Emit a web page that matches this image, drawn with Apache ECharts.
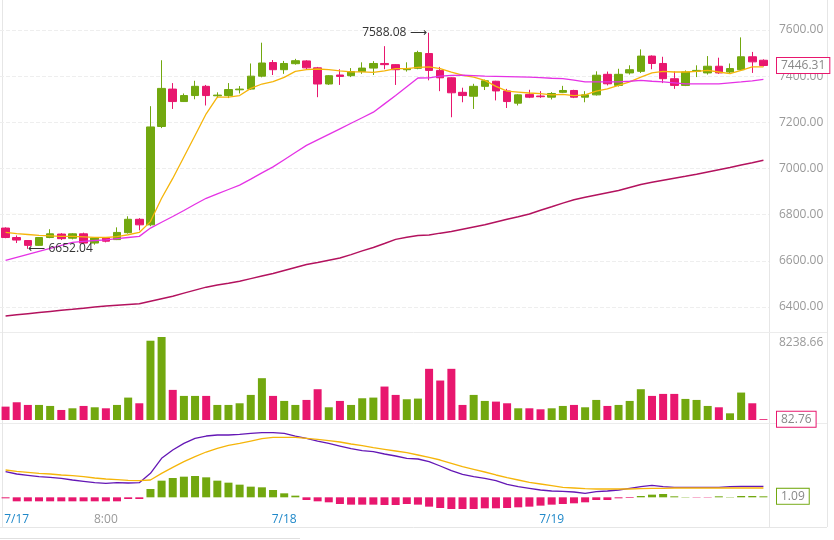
<!DOCTYPE html>
<html><head><meta charset="utf-8">
<script src="https://cdn.jsdelivr.net/npm/echarts@6/dist/echarts.min.js"></script>
<style>html,body{margin:0;padding:0;background:#fff}#c{width:834px;height:540px}</style>
</head><body><div id="c"></div>
<script>
// index 0 = 7/16 23:00, hourly candles
const xLabels = ['', '7/17', '', '', '', '', '', '', '', '8:00', '', '', '', '', '', '', '', '', '', '', '', '', '', '', '', '7/18', '', '', '', '', '', '', '', '', '', '', '', '', '', '', '', '', '', '', '', '', '', '', '', '7/19', '', '', '', '', '', '', '', '', '', '', '', '', '', '', '', '', '', '', ''];
// [open, close, low, high]
const ohlc = [
[6742,6701,6698,6745],[6701,6690,6677,6710],[6688,6667,6652.04,6690],[6667,6701,6665,6703],[6701,6717,6698,6737],
[6716,6696,6690,6720],[6698,6717,6693,6720],[6717,6677,6673,6722],[6677,6699,6670,6703],[6699,6685,6680,6702],
[6692,6723,6690,6745],[6722,6780,6718,6793],[6780,6756,6732,6785],[6756,7180,6750,7270],[7182,7347,7175,7469],
[7344,7290,7258,7370],[7290,7316,7288,7325],[7316,7356,7300,7380],[7356,7316,7273,7362],[7315,7318,7305,7330],
[7316,7342,7305,7370],[7341,7344,7325,7357],[7344,7400,7340,7455],[7400,7457,7395,7545],[7459,7428,7405,7470],
[7428,7455,7410,7466],[7454,7467,7450,7475],[7466,7436,7430,7469],[7436,7366,7309,7440],[7366,7402,7362,7405],
[7405,7399,7362,7430],[7402,7420,7396,7435],[7420,7435,7410,7460],[7435,7455,7405,7465],[7455,7450,7430,7530],
[7450,7428,7362,7452],[7428,7433,7420,7460],[7434,7502,7430,7510],[7498,7425,7382,7588.08],[7425,7393,7335,7440],
[7393,7328,7222,7395],[7330,7316,7287,7350],[7313,7356,7258,7367],[7356,7380,7340,7385],[7378,7336,7295,7380],
[7336,7290,7262,7345],[7283,7319,7273,7322],[7321,7309,7305,7341],[7314,7311,7306,7335],[7309,7325,7299,7331],
[7330,7338,7327,7358],[7338,7309,7305,7341],[7309,7319,7287,7335],[7319,7404,7316,7421],[7408,7367,7360,7420],
[7360,7408,7355,7432],[7414,7428,7407,7447],[7421,7487,7414,7516],[7487,7455,7430,7490],[7455,7389,7370,7484],
[7389,7360,7345,7421],[7360,7418,7357,7425],[7421,7425,7396,7447],[7414,7443,7407,7487],[7443,7414,7410,7480],
[7418,7433,7414,7455],[7428,7484,7425,7568],[7484,7462,7414,7505],[7469,7446.31,7442,7473]
];
const maShort = [6723,6718,6714,6710,6708,6706,6706,6704,6702,6701,6705,6713,6723,6770,6871,6957,7050,7143,7237,7309,
7309,7316,7347,7366,7376,7395,7421,7428,7431,7428,7423,7419,7419,7416,7423,7433,7433,7438,7440,7433,
7418,7404,7396,7382,7356,7335,7331,7327,7324,7319,7321,7316,7319,7335,7345,7360,7375,7396,7414,7421,
7418,7418,7421,7425,7418,7411,7425,7440,7440];
const maMid = [6602,6615,6628,6641,6654,6667,6680,6684,6688,6691,6696,6701,6706,6742,6767,6792,6818,6845,6871,6890,
6909,6928,6954,6981,7007,7038,7069,7100,7124,7148,7172,7196,7220,7244,7280,7316,7354,7392,7393,7400,
7403,7404,7402,7400,7399,7398,7397,7396,7394,7391,7389,7383,7375,7375,7375,7375,7378,7382,7378,7375,
7371,7367,7367,7367,7367,7371,7375,7380,7386];
const maLong = [6361,6366,6371,6376,6381,6386,6390,6395,6400,6404,6408,6411,6414,6425,6436,6447,6460,6473,6486,6495,
6503,6512,6523,6534,6545,6558,6571,6584,6593,6603,6612,6627,6643,6658,6675,6693,6702,6710,6712,6720,
6727,6737,6747,6756,6768,6780,6791,6803,6819,6834,6850,6865,6875,6885,6895,6905,6918,6931,6940,6949,
6958,6966,6975,6985,6995,7004,7015,7025,7036];
const volume = [1328,1760,1495,1495,1395,996,1162,1395,1262,1162,1495,2225,1660,7870,8238.66,2989,2391,2391,2391,1495,
1495,1660,2490,4150,2391,1893,1495,1992,3055,1262,1893,1495,2158,2225,3320,2490,2059,2125,5080,3918,
5080,1495,2490,1893,1826,1660,1162,1162,1062,1162,1395,1495,1262,1992,1395,1495,1893,3055,2391,2590,
2590,2092,1992,1395,1262,664,2723,1660,82.76];
// MACD in panel units (converted by UNIT)
const difRaw = [77,70,66,62,60,57,52,48,44,42,44,43,44,72,117,142,162,177,184,187,
187,189,192,194,194,192,184,177,169,162,154,146,140,137,130,124,117,115,107,94,
80,69,62,57,50,39,32,27,22,19,18,16,12,17,19,22,27,32,36,32,
30,30,30,30,30,32,33,33,33];
const deaRaw = [82,78,75,72,70,67,65,62,58,55,53,51,50,52,72,90,107,122,136,147,
156,162,169,176,180,180,180,177,174,170,166,160,155,149,144,139,134,127,120,112,
102,92,84,76,67,59,52,45,40,35,30,28,26,25,25,25,25,26,27,27,
28,28,28,28,28,28,28,28,28];
const histRaw = [-3,-12,-12,-12,-12,-12,-12,-12,-12,-12,-12,-5,-5,25,50,58,62,64,60,50,
44,38,32,30,22,12,5,-8,-12,-15,-20,-22,-22,-22,-23,-23,-20,-22,-28,-32,
-35,-35,-35,-33,-33,-32,-30,-28,-25,-22,-20,-18,-15,-8,-8,-3,-2,4,8,10,
3,1,-1,-1,3,1,4,4,3.03];
const UNIT = 0.36;

const GREEN = '#72a80f', PINK = '#e8176e';
const dif = difRaw.map(v => +(v * UNIT).toFixed(2));
const dea = deaRaw.map(v => +(v * UNIT).toFixed(2));
const hist = histRaw.map(v => +(v * UNIT).toFixed(2));
const candles = ohlc.map(d => [d[0], d[1], d[2], d[3]]);
const volData = volume.map((v, i) => ({value: v, itemStyle: {color: ohlc[i][1] >= ohlc[i][0] ? GREEN : PINK}}));
const histData = hist.map(v => ({value: v, itemStyle: {color: v >= 0 ? GREEN : PINK}}));
const last = ohlc.length - 1;

const tagLine = (v, color) => ({
  symbol: 'none', silent: true, lineStyle: {color: 'rgba(0,0,0,0)', width: 0},
  data: [{yAxis: v}],
  label: {
    show: true, position: 'end', distance: 8, color: '#888', fontSize: 12, fontFamily: 'Open Sans',
    backgroundColor: '#fff', borderColor: color, borderWidth: 1, padding: [2, 4, 1, 4],
    formatter: v.toFixed(2)
  }
});

const chart = echarts.init(document.getElementById('c'));
chart.setOption({
  animation: false,
  textStyle: {fontFamily: 'Open Sans'},
  grid: [
    {left: -2, right: 65, top: 30, height: 277},
    {left: -2, right: 65, top: 337, height: 83},
    {left: -2, right: 65, top: 428, height: 82}
  ],
  xAxis: [0, 1, 2].map(i => ({
    type: 'category', gridIndex: i, data: xLabels, boundaryGap: true,
    axisLine: {show: false}, axisTick: {show: false},
    axisLabel: i === 2 ? {
      show: true, interval: 0, margin: 4, fontSize: 12, fontFamily: 'Open Sans',
      color: v => (v.indexOf('/') >= 0 ? '#1f88c9' : '#999')
    } : {show: false},
    splitLine: {show: false}
  })),
  yAxis: [
    {gridIndex: 0, position: 'right', min: 6400, max: 7600, interval: 200,
     axisLine: {show: false}, axisTick: {show: false},
     axisLabel: {color: '#999', fontSize: 12, margin: 10, formatter: v => v.toFixed(2)},
     splitLine: {lineStyle: {color: '#eee', type: 'dashed'}}},
    {gridIndex: 1, position: 'right', min: 0, max: 8238.66, interval: 8238.66,
     axisLine: {show: false}, axisTick: {show: false},
     axisLabel: {color: '#999', fontSize: 12, margin: 10, verticalAlign: 'top', formatter: v => v > 0 ? v.toFixed(2) : ''},
     splitLine: {show: false}},
    {gridIndex: 2, position: 'right', min: -13.7, max: 74.9,
     axisLine: {show: false}, axisTick: {show: false}, axisLabel: {show: false}, splitLine: {show: false}}
  ],
  series: [
    {type: 'candlestick', xAxisIndex: 0, yAxisIndex: 0, data: candles, barWidth: 8, clip: false,
     itemStyle: {color: GREEN, color0: PINK, borderColor: GREEN, borderColor0: PINK, borderWidth: 1},
     markPoint: {
       symbol: 'circle', symbolSize: 1, itemStyle: {color: 'rgba(0,0,0,0)'},
       data: [
         {coord: [38, 7588.08], value: 7588.08, label: {show: true, position: 'left', distance: 2, color: '#333', fontSize: 12, formatter: '7588.08 \u27f6'}},
         {coord: [2, 6652.04], value: 6652.04, label: {show: true, position: 'right', distance: 0, color: '#333', fontSize: 12, formatter: '\u27f5 6652.04'}}
       ]
     },
     markLine: tagLine(ohlc[last][1], PINK)
    },
    {type: 'line', data: maShort, xAxisIndex: 0, yAxisIndex: 0, showSymbol: false, clip: false, lineStyle: {color: '#f5b50a', width: 1.3}},
    {type: 'line', data: maMid, xAxisIndex: 0, yAxisIndex: 0, showSymbol: false, clip: false, lineStyle: {color: '#e532e5', width: 1.3}},
    {type: 'line', data: maLong, xAxisIndex: 0, yAxisIndex: 0, showSymbol: false, clip: false, lineStyle: {color: '#b3125e', width: 1.5}},
    {type: 'bar', data: volData, xAxisIndex: 1, yAxisIndex: 1, barWidth: 8, markLine: tagLine(volume[last], PINK)},
    {type: 'bar', data: histData, xAxisIndex: 2, yAxisIndex: 2, barWidth: 8, markLine: tagLine(hist[last], GREEN)},
    {type: 'line', data: dif, xAxisIndex: 2, yAxisIndex: 2, showSymbol: false, lineStyle: {color: '#6417b5', width: 1.3}},
    {type: 'line', data: dea, xAxisIndex: 2, yAxisIndex: 2, showSymbol: false, lineStyle: {color: '#f5b50a', width: 1.3}}
  ],
  graphic: [
    {type: 'line', shape: {x1: 769.5, y1: 0, x2: 769.5, y2: 527}, style: {stroke: '#e6e6e6', lineWidth: 1}},
    {type: 'line', shape: {x1: 827.5, y1: 0, x2: 827.5, y2: 527}, style: {stroke: '#e6e6e6', lineWidth: 1}},
    {type: 'line', shape: {x1: 0, y1: 332.5, x2: 827, y2: 332.5}, style: {stroke: '#ececec', lineWidth: 1}},
    {type: 'line', shape: {x1: 0, y1: 423.5, x2: 827, y2: 423.5}, style: {stroke: '#ececec', lineWidth: 1}},
    {type: 'line', shape: {x1: 0, y1: 527.5, x2: 827, y2: 527.5}, style: {stroke: '#e6e6e6', lineWidth: 1}},
    {type: 'line', shape: {x1: 2.5, y1: 0, x2: 2.5, y2: 527}, style: {stroke: '#e6e6e6', lineWidth: 1}},
    {type: 'line', shape: {x1: 0, y1: 538.5, x2: 300, y2: 538.5}, style: {stroke: '#e0e0e0', lineWidth: 1}}
  ]
});
</script></body></html>
